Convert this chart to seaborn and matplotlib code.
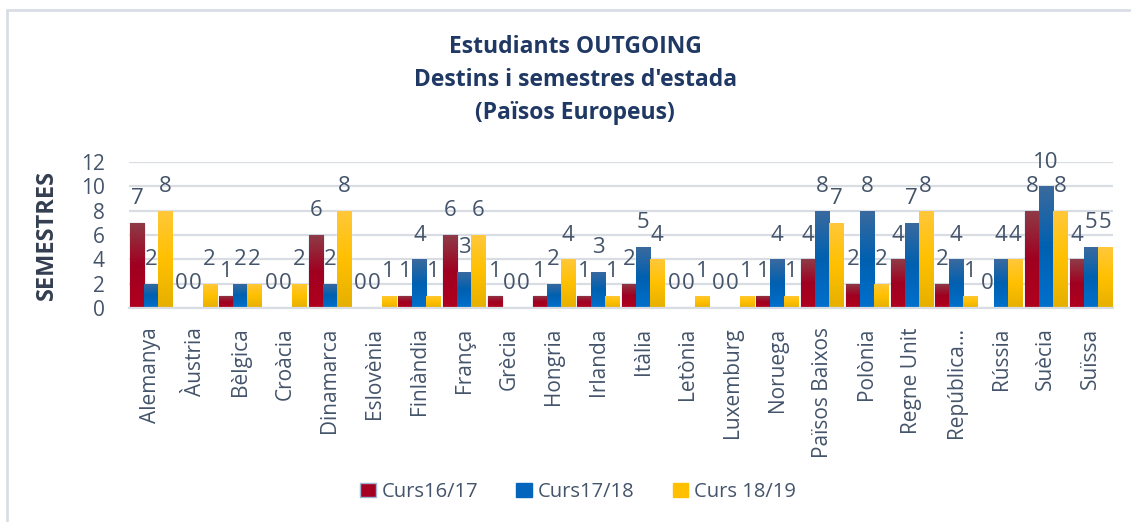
import numpy as np
import pandas as pd
import matplotlib
matplotlib.use("Agg")
import matplotlib.pyplot as plt
from matplotlib.lines import Line2D
from matplotlib.patches import Patch
from matplotlib.colors import LinearSegmentedColormap
import seaborn as sns

countries = ["Alemanya", "Àustria", "Bèlgica", "Croàcia", "Dinamarca", "Eslovènia",
             "Finlàndia", "França", "Grècia", "Hongria", "Irlanda", "Itàlia",
             "Letònia", "Luxemburg", "Noruega", "Països Baixos", "Polònia",
             "Regne Unit", "República…", "Rússia", "Suècia", "Suïssa"]
curs_16_17 = [7, 0, 1, 0, 6, 0, 1, 6, 1, 1, 1, 2, 0, 0, 1, 4, 2, 4, 2, 0, 8, 4]
curs_17_18 = [2, 0, 2, 0, 2, 0, 4, 3, 0, 2, 3, 5, 0, 0, 4, 8, 8, 7, 4, 4, 10, 5]
curs_18_19 = [8, 2, 2, 2, 8, 1, 1, 6, 0, 4, 1, 4, 1, 1, 1, 7, 2, 8, 1, 4, 8, 5]
series_names = ["Curs16/17", "Curs17/18", "Curs 18/19"]
yticks = [0, 2, 4, 6, 8, 10, 12]

colors = ["#A50021", "#0465BD", "#FFC000"]
grad = [("#8E3B47", "#A00020", "#B0001E"),
        ("#3A6A9E", "#0060B0", "#0070CC"),
        ("#FFC83A", "#FFC000", "#E6B000")]
text_col = "#44546A"
title_col = "#1F3864"

sns.set_theme(style="white")
plt.rcParams["font.family"] = ["Open Sans", "DejaVu Sans"]

df = pd.DataFrame({
    "country": countries * 3,
    "value": curs_16_17 + curs_17_18 + curs_18_19,
    "serie": sum([[s] * len(countries) for s in series_names], []),
})

fig = plt.figure(figsize=(11.31, 5.22), dpi=100)
ax = fig.add_axes([128.6 / 1131, 1 - 308 / 522, 984.3 / 1131, 146 / 522])

sns.barplot(data=df, x="country", y="value", hue="serie", hue_order=series_names,
            palette=colors, width=0.94, gap=0, errorbar=None, ax=ax, legend=False,
            saturation=1)

ax.set_ylim(0, 12)
ax.set_xlim(-0.5, len(countries) - 0.5)
ax.set_yticks(yticks)
ax.set_yticklabels([str(t) for t in yticks])
ax.grid(axis="y", color="#D9DDE3", linewidth=1.6, zorder=0)
ax.set_axisbelow(True)
for s in ["top", "right", "left"]:
    ax.spines[s].set_visible(False)
ax.spines["bottom"].set_color("#D9DDE3")
ax.spines["bottom"].set_linewidth(1.6)
ax.tick_params(axis="y", length=0, pad=17, labelsize=15, labelcolor=text_col)
ax.tick_params(axis="x", length=0, pad=14, labelsize=15, labelcolor=text_col,
               labelrotation=90)
ax.set_xlabel("")
ax.set_ylabel("SEMESTRES", fontsize=17, fontweight="bold", color="#333F50", labelpad=16)

# gradients and labels
for ci, cont in enumerate(ax.containers):
    cmap = LinearSegmentedColormap.from_list("g%d" % ci, list(grad[ci]))
    g = np.linspace(0, 1, 64).reshape(-1, 1)
    for bar in cont:
        h = bar.get_height()
        x0 = bar.get_x()
        w = bar.get_width()
        if ci == 0:
            bar.set_edgecolor("#9DB5D6")
            bar.set_linewidth(1.0)
        if h > 0:
            im = ax.imshow(g, cmap=cmap, aspect="auto", extent=(x0, x0 + w, 0, h),
                           origin="upper", zorder=bar.get_zorder() + 0.1,
                           interpolation="bilinear")
            im.set_clip_path(bar)
        ax.annotate(str(int(h)), (x0 + w / 2, h), xytext=(0, 17.5),
                    textcoords="offset points", ha="center", va="center",
                    fontsize=16, color=text_col)
ax.set_xlim(-0.5, len(countries) - 0.5)
ax.set_ylim(0, 12)

for txt, yp in [("Estudiants OUTGOING", 47), ("Destins i semestres d'estada", 80),
                ("(Països Europeus)", 113)]:
    fig.text(0.5086, 1 - yp / 522, txt, ha="center", va="center",
             fontsize=16.5, fontweight="bold", color=title_col)

handles = [Patch(facecolor=colors[0], edgecolor="#9DB5D6", linewidth=1.0),
           Patch(facecolor=colors[1], edgecolor=colors[1]),
           Patch(facecolor=colors[2], edgecolor=colors[2])]
fig.legend(handles, series_names, loc="center", bbox_to_anchor=(578 / 1131, 1 - 492 / 522),
           ncol=3, frameon=False, fontsize=14.5, labelcolor=text_col,
           handlelength=0.75, handleheight=0.75, handletextpad=0.3, columnspacing=1.9)

# outer chart border (top and left visible)
fig.add_artist(Line2D([7 / 1131, 1.0], [1 - 10 / 522] * 2, color="#D9DEE6", linewidth=2,
                      transform=fig.transFigure))
fig.add_artist(Line2D([7 / 1131] * 2, [0, 1 - 10 / 522], color="#D9DEE6", linewidth=2,
                      transform=fig.transFigure))

fig.savefig("out.png", dpi=100)
